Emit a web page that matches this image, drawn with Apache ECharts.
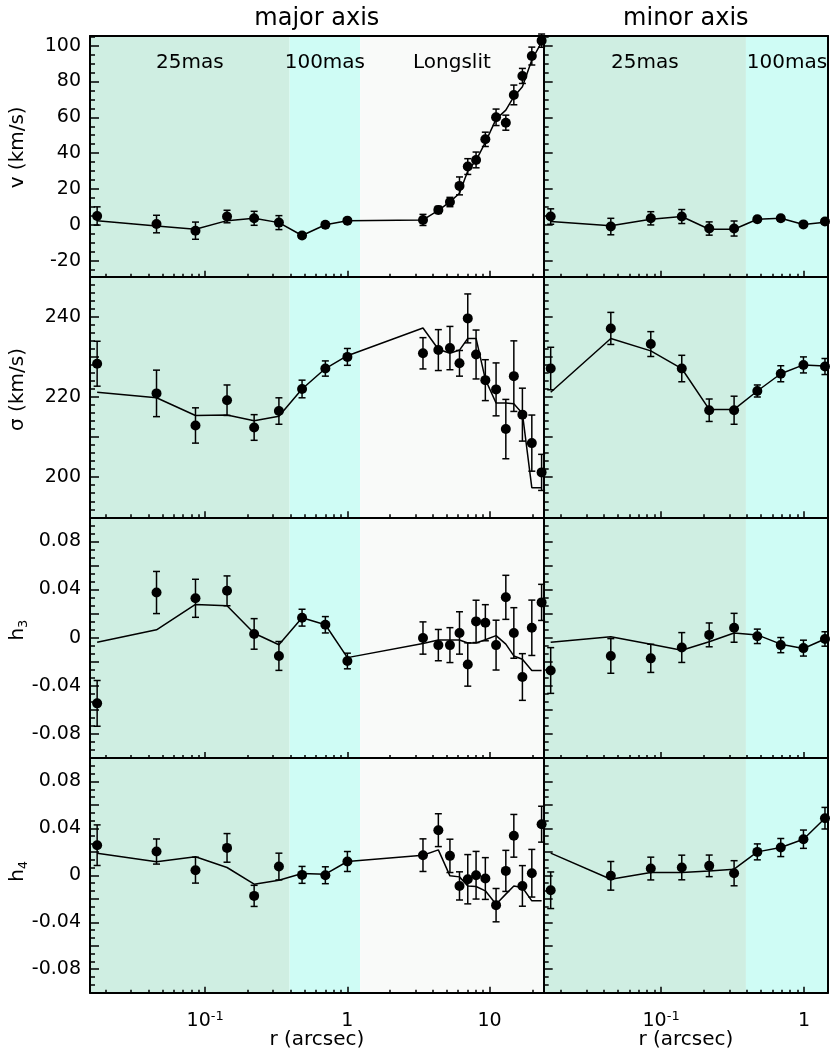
<!DOCTYPE html>
<html>
<head>
<meta charset="utf-8">
<script src="https://cdn.jsdelivr.net/npm/echarts@6/dist/echarts.min.js"></script>
<style>
html, body { margin: 0; padding: 0; background: #fff; }
#main { width: 830px; height: 1054px; }
</style>
</head>
<body>
<div id="main"></div>
<script>
// radii in arcsec
const majorR = [0.0174, 0.0455, 0.0855, 0.1425, 0.221, 0.33, 0.48, 0.70, 1.0,
    3.40, 4.36, 5.26, 6.14, 7.02, 8.03, 9.33, 11.1, 13.0, 14.8, 17.0, 19.8, 23.2]
const minorR = [0.0169, 0.0445, 0.0847, 0.1395, 0.217, 0.324, 0.471, 0.687, 0.99, 1.40]

// v (km/s)
const vMajor = [4.9, 0.4, -3.3, 4.6, 3.6, 1.2, -6.0, 0.0, 2.3,
    2.7, 8.3, 12.7, 21.7, 32.5, 36.2, 47.7, 60.0, 57.0, 72.5, 83.1, 94.2, 102.8]
const vMajorErr = [5.1, 4.9, 4.8, 3.5, 3.9, 3.9, 1.5, 1.5, 1.5,
    3.1, 2.0, 2.6, 5.0, 4.4, 4.4, 4.0, 4.6, 4.2, 5.5, 4.2, 5.0, 3.7]
const vMajorModel = [2.3, -0.7, -2.5, 2.3, 3.6, 1.2, -6.0, 0.0, 2.3,
    2.7, 8.0, 12.8, 17.6, 30.0, 36.0, 46.0, 59.0, 64.0, 71.5, 77.0, 92.0, 102.0]
const vMinor = [4.6, -1.0, 3.6, 4.6, -2.1, -2.1, 3.1, 3.6, 0.2, 1.8]
const vMinorErr = [4.3, 4.6, 3.7, 3.9, 3.7, 4.2, 1.5, 1.5, 1.5, 1.5]
const vMinorModel = [1.8, -0.5, 3.1, 4.6, -2.5, -2.5, 3.1, 3.6, 0.2, 1.4]

// sigma (km/s)
const sMajor = [228.3, 220.9, 212.9, 219.2, 212.4, 216.5, 222.0, 227.1, 230.0,
    230.9, 231.7, 232.2, 228.4, 239.6, 230.6, 224.2, 221.9, 212.0, 225.2, 215.6, 208.5, 201.2]
const sMajorErr = [5.6, 5.8, 4.4, 3.8, 3.2, 3.3, 2.2, 1.9, 2.1,
    3.9, 5.1, 5.4, 3.2, 6.1, 6.1, 5.1, 6.6, 7.4, 8.8, 6.6, 7.0, 4.5]
const sMajorModel = [221.2, 219.8, 215.4, 215.5, 214.1, 215.2, 222.0, 227.1, 230.3,
    237.2, 231.9, 230.9, 231.7, 234.6, 234.6, 224.4, 218.5, 218.5, 218.3, 215.9, 197.4, 197.4]
const sMinor = [227.1, 237.1, 233.2, 227.1, 216.7, 216.7, 221.5, 225.8, 228.0, 227.6]
const sMinorErr = [5.3, 4.0, 3.1, 3.3, 2.8, 3.5, 1.5, 2.0, 2.0, 2.0]
const sMinorModel = [221.2, 234.6, 231.5, 227.1, 216.9, 216.9, 221.5, 225.8, 228.0, 227.7]

// h3
const h3Major = [-0.0546, 0.0375, 0.0327, 0.0389, 0.0031, -0.0152, 0.0166, 0.0107, -0.0194,
    -0.0003, -0.0062, -0.0062, 0.0039, -0.0223, 0.0135, 0.0124, -0.0062, 0.0335, 0.0039, -0.0327, 0.0082, 0.0293]
const h3MajorErr = [0.019, 0.0175, 0.0158, 0.0124, 0.0127, 0.012, 0.007, 0.0068, 0.0065,
    0.0134, 0.013, 0.0145, 0.0176, 0.018, 0.0176, 0.015, 0.0207, 0.0183, 0.021, 0.0194, 0.023, 0.015]
const h3MajorModel = [-0.0039, 0.0065, 0.0276, 0.0265, 0.0037, -0.0059, 0.0166, 0.0107, -0.0166,
    -0.0048, -0.002, -0.002, -0.002, -0.0045, -0.0045, -0.0017, 0.0017, -0.0054, -0.0152, -0.018, -0.0273, -0.0273]
const h3Minor = [-0.0273, -0.0152, -0.0172, -0.0082, 0.0023, 0.0082, 0.0011, -0.0062, -0.0087, -0.0011]
const h3MinorErr = [0.019, 0.0144, 0.0117, 0.0124, 0.0099, 0.012, 0.006, 0.0063, 0.0066, 0.006]
const h3MinorModel = [-0.0039, 0.0008, -0.0054, -0.0104, -0.0034, 0.0039, 0.0023, -0.0054, -0.009, -0.0011]

// h4
const h4Major = [0.0257, 0.0203, 0.0044, 0.0234, -0.0175, 0.0075, 0.0004, 0.0001, 0.0118,
    0.0172, 0.0385, 0.0166, -0.009, -0.0033, 0.0001, -0.0027, -0.0254, 0.0038, 0.0337, -0.009, 0.0018, 0.0436]
const h4MajorErr = [0.0173, 0.0107, 0.011, 0.0122, 0.009, 0.0114, 0.0072, 0.0072, 0.0085,
    0.0139, 0.014, 0.0142, 0.012, 0.021, 0.0203, 0.0178, 0.0142, 0.0175, 0.0182, 0.0173, 0.0203, 0.0153]
const h4MajorModel = [0.0189, 0.0115, 0.0158, 0.0067, -0.0075, -0.0041, 0.0016, 0.001, 0.0118,
    0.0172, 0.0217, -0.0004, -0.0013, -0.009, -0.0095, -0.0132, -0.0246, -0.016, -0.009, -0.0104, -0.0217, -0.0217]
const h4Minor = [-0.0127, -0.0004, 0.0058, 0.0067, 0.0081, 0.0018, 0.02, 0.0237, 0.0308, 0.0487]
const h4MinorErr = [0.0156, 0.0122, 0.0097, 0.0105, 0.0092, 0.0107, 0.0068, 0.0077, 0.0078, 0.0092]
const h4MinorModel = [0.0189, -0.0033, 0.0024, 0.0024, 0.0038, 0.0053, 0.02, 0.0237, 0.0308, 0.0487]

// tick labels
const xTickR = [0.1, 1, 10]
const vTicks = [-20, 0, 20, 40, 60, 80, 100]
const sTicks = [200, 220, 240]
const hTicks = [-0.08, -0.04, 0, 0.04, 0.08]

// instrument zones (arcsec)
const zoneEdges = [0.392, 1.23]
const zoneNames = ['25mas', '100mas', 'Longslit']

const chart = echarts.init(document.getElementById('main'))
const log = Math.log10
const font = 'DejaVu Sans'

// evenly spaced tick values, with every k-th one split out as major
function ticks(start, step, count, k, lo, hi) {
    let major = [], minor = []
    for (let i = 0; i <= count; i++) {
        let v = +(start + i * step).toFixed(6)
        if (v < lo - 1e-9 || v > hi + 1e-9) continue
        if (i % k === 0) major.push(v)
        else minor.push(v)
    }
    return {major, minor}
}

const xMinorTicks = []
for (let d of [0.01, 0.1, 1, 10]) {
    for (let k = 2; k <= 9; k++) xMinorTicks.push(log(k * d))
}

const cols = [
    {title: 'major axis', left: 87, width: 456.7, range: [0.0155, 24.0], r: majorR,
        bands: [['#cfeee2', 0.0155, zoneEdges[0]], ['#cffcf5', zoneEdges[0], zoneEdges[1]], ['#f9faf9', zoneEdges[1], 24.0]]},
    {title: 'minor axis', left: 543.7, width: 284.3, range: [0.0151, 1.47], r: minorR,
        bands: [['#cfeee2', 0.0151, zoneEdges[0]], ['#cffcf5', zoneEdges[0], 1.47]]}
]

const rows = [
    {top: 36, height: 240.7, name: '{n|v (km/s)}', pad: 18, min: -29, max: 105.4, labels: vTicks,
        t: ticks(-40, 5, 30, 4, -29, 105.4),
        sets: [[vMajor, vMajorErr, vMajorModel], [vMinor, vMinorErr, vMinorModel]]},
    {top: 276.7, height: 240.6, name: '{n|σ (km/s)}', pad: 15, min: 190, max: 250, labels: sTicks,
        t: ticks(190, 2, 30, 5, 190, 250),
        sets: [[sMajor, sMajorErr, sMajorModel], [sMinor, sMinorErr, sMinorModel]]},
    {top: 517.3, height: 240.7, name: '{n|h}{s|3}', pad: 15, min: -0.1, max: 0.1, labels: hTicks,
        t: ticks(-0.1, 0.02 / 3, 30, 3, -0.1, 0.1),
        sets: [[h3Major, h3MajorErr, h3MajorModel], [h3Minor, h3MinorErr, h3MinorModel]]},
    {top: 758, height: 234.7, name: '{n|h}{s|4}', pad: 8, min: -0.1, max: 0.1, labels: hTicks,
        t: ticks(-0.1, 0.02 / 3, 30, 3, -0.1, 0.1),
        sets: [[h4Major, h4MajorErr, h4MajorModel], [h4Minor, h4MinorErr, h4MinorModel]]}
]

const black = '#000'
const grids = [], xAxes = [], yAxes = [], series = []

function errorBar(params, api) {
    const lo = api.coord([api.value(0), api.value(1)])
    const hi = api.coord([api.value(0), api.value(2)])
    const cap = 3.5
    const st = {stroke: black, lineWidth: 1.5}
    return {
        type: 'group',
        children: [
            {type: 'line', shape: {x1: lo[0], y1: lo[1], x2: hi[0], y2: hi[1]}, style: st},
            {type: 'line', shape: {x1: lo[0] - cap, y1: lo[1], x2: lo[0] + cap, y2: lo[1]}, style: st},
            {type: 'line', shape: {x1: hi[0] - cap, y1: hi[1], x2: hi[0] + cap, y2: hi[1]}, style: st}
        ]
    }
}

function xLabel(v) {
    if (Math.abs(v + 1) < 1e-6) return '{b|10}{s|-1}'
    if (Math.abs(v) < 1e-6) return '{b|1}'
    return '{b|10}'
}

const frameLine = {show: true, onZero: false, lineStyle: {color: black, width: 2}}
const noLine = {show: false, onZero: false}

rows.forEach((row, ri) => {
    cols.forEach((col, ci) => {
        const gi = grids.length
        grids.push({left: col.left, top: row.top, width: col.width, height: row.height})
        const isBottom = ri === rows.length - 1
        const isTop = ri === 0
        const isLeft = ci === 0
        const xBase = {gridIndex: gi, type: 'value', min: log(col.range[0]), max: log(col.range[1]),
            z: 3, splitLine: {show: false}, axisPointer: {show: false}}
        const yBase = {gridIndex: gi, type: 'value', min: row.min, max: row.max,
            z: 3, splitLine: {show: false}, axisPointer: {show: false}}
        const xi = xAxes.length
        xAxes.push({
            ...xBase, position: 'bottom',
            axisLine: frameLine,
            axisTick: {show: true, inside: true, length: 6, customValues: xTickR.map(log), lineStyle: {color: black, width: 1.5}},
            axisLabel: isBottom ? {
                show: true, customValues: xTickR.map(log), formatter: xLabel, margin: 17, color: black,
                rich: {
                    b: {fontSize: 19, lineHeight: 22, fontFamily: font, color: black},
                    s: {fontSize: 13, lineHeight: 8, verticalAlign: 'top', fontFamily: font, color: black}
                }
            } : {show: false},
            name: isBottom ? 'r (arcsec)' : '', nameLocation: 'middle', nameGap: 37, nameMoveOverlap: false,
            nameTextStyle: {fontSize: 20, color: black, fontFamily: font}
        })
        xAxes.push({
            ...xBase, position: 'bottom', axisLine: noLine,
            axisTick: {show: true, inside: true, length: 3, customValues: xMinorTicks, lineStyle: {color: black, width: 1.5}},
            axisLabel: {show: false}
        })
        xAxes.push({
            ...xBase, position: 'top',
            axisLine: frameLine,
            axisTick: {show: false}, axisLabel: {show: false},
            name: isTop ? col.title : '', nameLocation: 'middle', nameGap: 5, nameMoveOverlap: false,
            nameTextStyle: {fontSize: 24, color: black, fontFamily: font}
        })
        const yi = yAxes.length
        yAxes.push({
            ...yBase, position: 'left',
            axisLine: frameLine,
            axisTick: {show: true, inside: true, length: 9, customValues: row.t.major, lineStyle: {color: black, width: 1.5}},
            axisLabel: isLeft ? {
                show: true, customValues: row.labels, margin: 9, color: black, fontSize: 19, fontFamily: font,
                formatter: v => String(+v.toFixed(3))
            } : {show: false},
            name: isLeft ? row.name : '', nameLocation: 'middle', nameGap: 60, nameMoveOverlap: false,
            nameTextStyle: {
                color: black, padding: [0, 0, 0, row.pad],
                rich: {
                    n: {fontSize: 20, lineHeight: 24, fontFamily: font, color: black},
                    s: {fontSize: 13, lineHeight: 8, verticalAlign: 'bottom', fontFamily: font, color: black}
                }
            }
        })
        yAxes.push({
            ...yBase, position: 'left', axisLine: noLine,
            axisTick: {show: true, inside: true, length: 5, customValues: row.t.minor, lineStyle: {color: black, width: 1.5}},
            axisLabel: {show: false}
        })
        yAxes.push({
            ...yBase, position: 'right',
            axisLine: frameLine,
            axisTick: {show: false}, axisLabel: {show: false}
        })

        const [vals, errs, model] = row.sets[ci]
        const r = col.r
        series.push({
            type: 'line', xAxisIndex: xi, yAxisIndex: yi, z: 4,
            data: r.map((x, i) => [log(x), model[i]]),
            symbol: 'none', lineStyle: {color: black, width: 1.5},
            markArea: {
                silent: true,
                label: {show: isTop, position: 'insideTop', distance: 17, color: black, fontSize: 20, fontFamily: font},
                data: col.bands.map((b, bi) => [
                    {name: zoneNames[bi], xAxis: log(b[1]), itemStyle: {color: b[0]}},
                    {xAxis: log(b[2])}
                ])
            }
        })
        series.push({
            type: 'custom', xAxisIndex: xi, yAxisIndex: yi, z: 5, clip: false,
            renderItem: errorBar, encode: {x: 0, y: [1, 2]},
            data: r.map((x, i) => [log(x), vals[i] - errs[i], vals[i] + errs[i]])
        })
        series.push({
            type: 'scatter', xAxisIndex: xi, yAxisIndex: yi, z: 6, clip: false,
            symbol: 'circle', symbolSize: 10, itemStyle: {color: black, opacity: 1},
            data: r.map((x, i) => [log(x), vals[i]])
        })
    })
})

chart.setOption({
    animation: false,
    backgroundColor: '#fff',
    textStyle: {fontFamily: font},
    grid: grids,
    xAxis: xAxes,
    yAxis: yAxes,
    series: series
})
</script>
</body>
</html>
